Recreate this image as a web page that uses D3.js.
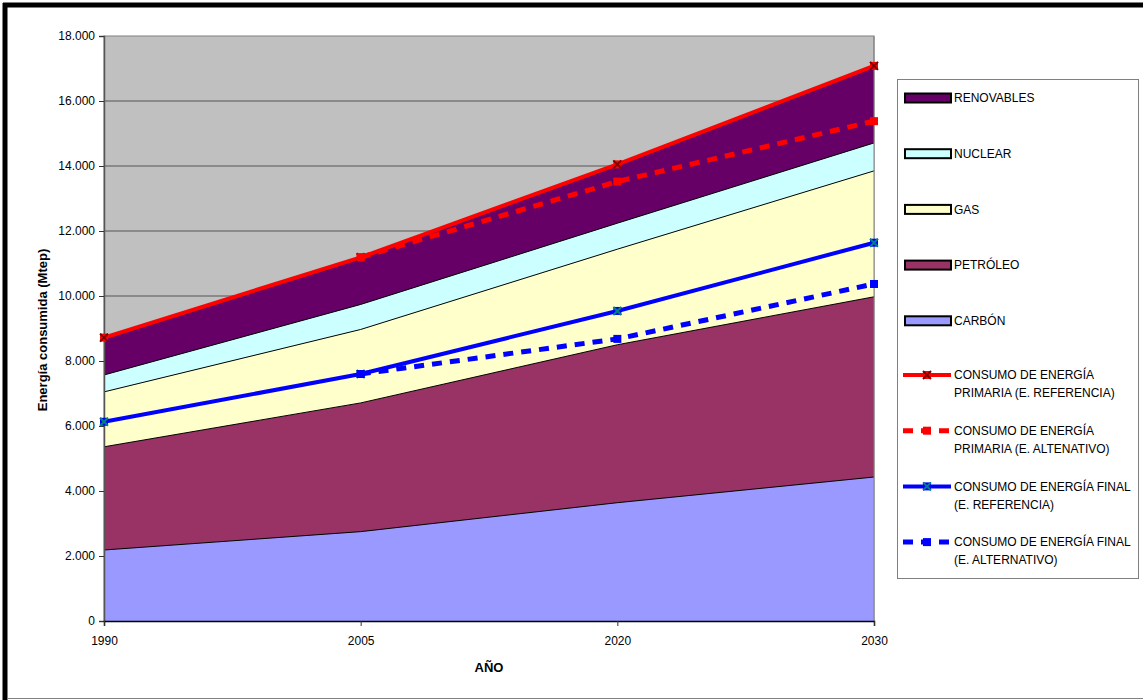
<!DOCTYPE html>
<html>
<head>
<meta charset="utf-8">
<script src="https://cdn.jsdelivr.net/npm/d3@7"></script>
<style>
  body { margin: 0; background: #fff; }
  svg text { font-family: "Liberation Sans", Arial, sans-serif; }
</style>
</head>
<body>
<svg id="chart"></svg>
<script>
const width = 1143;
const height = 700;

// data (Mtep)
const years = ["1990", "2005", "2020", "2030"];
const carbon = [2185, 2750, 3640, 4430];
const petroleo = [3175, 3960, 4860, 5545];
const gas = [1690, 2260, 2940, 3875];
const nuclear = [520, 770, 800, 860];
const renovables = [1150, 1450, 1810, 2367];

const primariaRef = [8720, 11190, 14050, 17080];
const primariaAlt = [null, 11190, 13520, 15380];
const finalRef = [6130, 7600, 9540, 11640];
const finalAlt = [null, 7600, 8680, 10370];

const yTicks = [0, 2000, 4000, 6000, 8000, 10000, 12000, 14000, 16000, 18000];

const areaSeries = [
    { key: "carbon", name: "CARBÓN", values: carbon, color: "#9999ff" },
    { key: "petroleo", name: "PETRÓLEO", values: petroleo, color: "#993366" },
    { key: "gas", name: "GAS", values: gas, color: "#ffffcc" },
    { key: "nuclear", name: "NUCLEAR", values: nuclear, color: "#ccffff" },
    { key: "renovables", name: "RENOVABLES", values: renovables, color: "#660066" }
];

const lineSeries = [
    { name: ["CONSUMO DE ENERGÍA", "PRIMARIA (E. REFERENCIA)"], values: primariaRef, color: "#ff0000", dash: null, marker: "x", markerColor: "#800000" },
    { name: ["CONSUMO  DE ENERGÍA", "PRIMARIA (E. ALTENATIVO)"], values: primariaAlt, color: "#ff0000", dash: "10,8", marker: "square", markerColor: "#ff0000" },
    { name: ["CONSUMO DE ENERGÍA FINAL", "(E. REFERENCIA)"], values: finalRef, color: "#0000ff", dash: null, marker: "x", markerColor: "#008080" },
    { name: ["CONSUMO DE ENERGÍA FINAL", "(E. ALTERNATIVO)"], values: finalAlt, color: "#0000ff", dash: "10,8", marker: "square", markerColor: "#0000ff" }
];

const svg = d3.select("#chart")
    .attr("width", width)
    .attr("height", height)
    .attr("viewBox", [0, 0, width, height]);

// outer frame
svg.append("line").attr("x1", 5).attr("x2", 5).attr("y1", 3).attr("y2", 700)
    .attr("stroke", "#000").attr("stroke-width", 5);
svg.append("line").attr("x1", 3).attr("x2", 1143).attr("y1", 5).attr("y2", 5)
    .attr("stroke", "#000").attr("stroke-width", 5);
svg.append("line").attr("x1", 8).attr("x2", 1143).attr("y1", 698.5).attr("y2", 698.5)
    .attr("stroke", "#808080").attr("stroke-width", 1);

const plot = { left: 104, right: 874, top: 36, bottom: 621 };

const x = d3.scalePoint().domain(years).range([plot.left, plot.right]);
const y = d3.scaleLinear().domain([0, 18000]).range([plot.bottom, plot.top]);

const esLocale = d3.formatLocale({ decimal: ",", thousands: ".", grouping: [3], currency: ["", " €"] });
const fmt = esLocale.format(",d");

// plot background
svg.append("rect")
    .attr("x", plot.left).attr("y", plot.top)
    .attr("width", plot.right - plot.left).attr("height", plot.bottom - plot.top)
    .attr("fill", "#c0c0c0")
    .attr("stroke", "#808080").attr("stroke-width", 1);

// gridlines
svg.append("g")
    .selectAll("line")
    .data(yTicks.filter(d => d > 0 && d < 18000))
    .join("line")
    .attr("x1", plot.left).attr("x2", plot.right)
    .attr("y1", d => y(d)).attr("y2", d => y(d))
    .attr("stroke", "#555").attr("stroke-width", 1);

// stacked areas
const table = years.map((yr, i) => {
    const row = { year: yr };
    areaSeries.forEach(s => row[s.key] = s.values[i]);
    return row;
});
const stack = d3.stack().keys(areaSeries.map(s => s.key));
const stacked = stack(table);

const area = d3.area()
    .x(d => x(d.data.year))
    .y0(d => y(d[0]))
    .y1(d => y(d[1]));
const topLine = d3.line()
    .x(d => x(d.data.year))
    .y(d => y(d[1]));

svg.append("g")
    .selectAll("path")
    .data(stacked)
    .join("path")
    .attr("d", area)
    .attr("fill", (d, i) => areaSeries[i].color);

svg.append("g")
    .selectAll("path")
    .data(stacked)
    .join("path")
    .attr("d", topLine)
    .attr("fill", "none")
    .attr("stroke", "#000")
    .attr("stroke-width", 1);

// right border of plot on top of areas
svg.append("line")
    .attr("x1", plot.right).attr("x2", plot.right)
    .attr("y1", plot.top).attr("y2", plot.bottom)
    .attr("stroke", "#808080").attr("stroke-width", 1);

// axes
const yAxis = d3.axisLeft(y).tickValues(yTicks).tickFormat(d => d === 0 ? "0" : fmt(d)).tickSize(5).tickPadding(4);
const gy = svg.append("g").attr("transform", `translate(${plot.left},0)`).call(yAxis);
gy.select(".domain").attr("stroke", "#555").attr("stroke-width", 1.5);
gy.selectAll(".tick line").attr("stroke", "#333");
gy.selectAll(".tick text").attr("font-size", 12).attr("fill", "#000")
    .attr("font-family", "'Liberation Sans', Arial, sans-serif");

const xAxis = d3.axisBottom(x).tickSize(5).tickPadding(10);
const gx = svg.append("g").attr("transform", `translate(0,${plot.bottom})`).call(xAxis);
gx.select(".domain").attr("stroke", "#000").attr("stroke-width", 1.5);
gx.selectAll(".tick line").attr("stroke", "#333");
gx.selectAll(".tick text").attr("font-size", 12).attr("fill", "#000")
    .attr("font-family", "'Liberation Sans', Arial, sans-serif");

// axis titles
svg.append("text")
    .attr("x", 489).attr("y", 672)
    .attr("text-anchor", "middle")
    .attr("font-size", 13).attr("font-weight", "bold")
    .text("AÑO");
svg.append("text")
    .attr("transform", "translate(47,330) rotate(-90)")
    .attr("text-anchor", "middle")
    .attr("font-size", 13).attr("font-weight", "bold")
    .text("Energía consumida (Mtep)");

// lines
const line = d3.line()
    .defined(d => d != null)
    .x((d, i) => x(years[i]))
    .y(d => y(d));

function drawMarker(g, type, cx, cy, color) {
    if (type === "x") {
        g.append("path")
            .attr("d", `M${cx - 4},${cy - 4}L${cx + 4},${cy + 4}M${cx - 4},${cy + 4}L${cx + 4},${cy - 4}`)
            .attr("stroke", color).attr("stroke-width", 2);
    } else {
        g.append("rect").attr("x", cx - 4).attr("y", cy - 4).attr("width", 8).attr("height", 8)
            .attr("fill", color);
    }
}

lineSeries.forEach(s => {
    const g = svg.append("g");
    g.append("path")
        .datum(s.values)
        .attr("d", line)
        .attr("fill", "none")
        .attr("stroke", s.color)
        .attr("stroke-width", s.dash ? 5 : 4)
        .attr("stroke-dasharray", s.dash);
    s.values.forEach((v, i) => {
        if (v == null) return;
        if (s.marker === "x") {
            g.append("rect").attr("x", x(years[i]) - 4).attr("y", y(v) - 4)
                .attr("width", 8).attr("height", 8).attr("fill", s.color);
        }
        drawMarker(g, s.marker, x(years[i]), y(v), s.markerColor);
    });
});

// legend
const legend = svg.append("g");
legend.append("rect")
    .attr("x", 897.5).attr("y", 79.5).attr("width", 241).attr("height", 499)
    .attr("fill", "#fff").attr("stroke", "#808080").attr("stroke-width", 1);

areaSeries.slice().reverse().forEach((s, i) => {
    const cy = 98 + i * 55.7;
    legend.append("rect")
        .attr("x", 905).attr("y", cy - 4.5).attr("width", 46).attr("height", 9)
        .attr("fill", s.color).attr("stroke", "#000").attr("stroke-width", 2);
    legend.append("text")
        .attr("x", 954).attr("y", cy).attr("dy", "0.35em")
        .attr("font-size", 12).attr("fill", "#000")
        .text(s.name);
});

lineSeries.forEach((s, i) => {
    const cy = 375 + i * 55.7;
    const gl = legend.append("g");
    gl.append("line")
        .attr("x1", 903).attr("x2", 951).attr("y1", cy).attr("y2", cy)
        .attr("stroke", s.color).attr("stroke-width", s.dash ? 5 : 4)
        .attr("stroke-dasharray", s.dash ? "10,8" : null);
    if (s.marker === "x") {
        gl.append("rect").attr("x", 923).attr("y", cy - 4).attr("width", 8).attr("height", 8).attr("fill", s.color);
    }
    drawMarker(gl, s.marker, 927, cy, s.markerColor);
    s.name.forEach((t, j) => {
        gl.append("text")
            .attr("x", 954).attr("y", cy + j * 18).attr("dy", "0.35em")
            .attr("font-size", 12).attr("fill", "#000")
            .text(t);
    });
});
</script>
</body>
</html>
